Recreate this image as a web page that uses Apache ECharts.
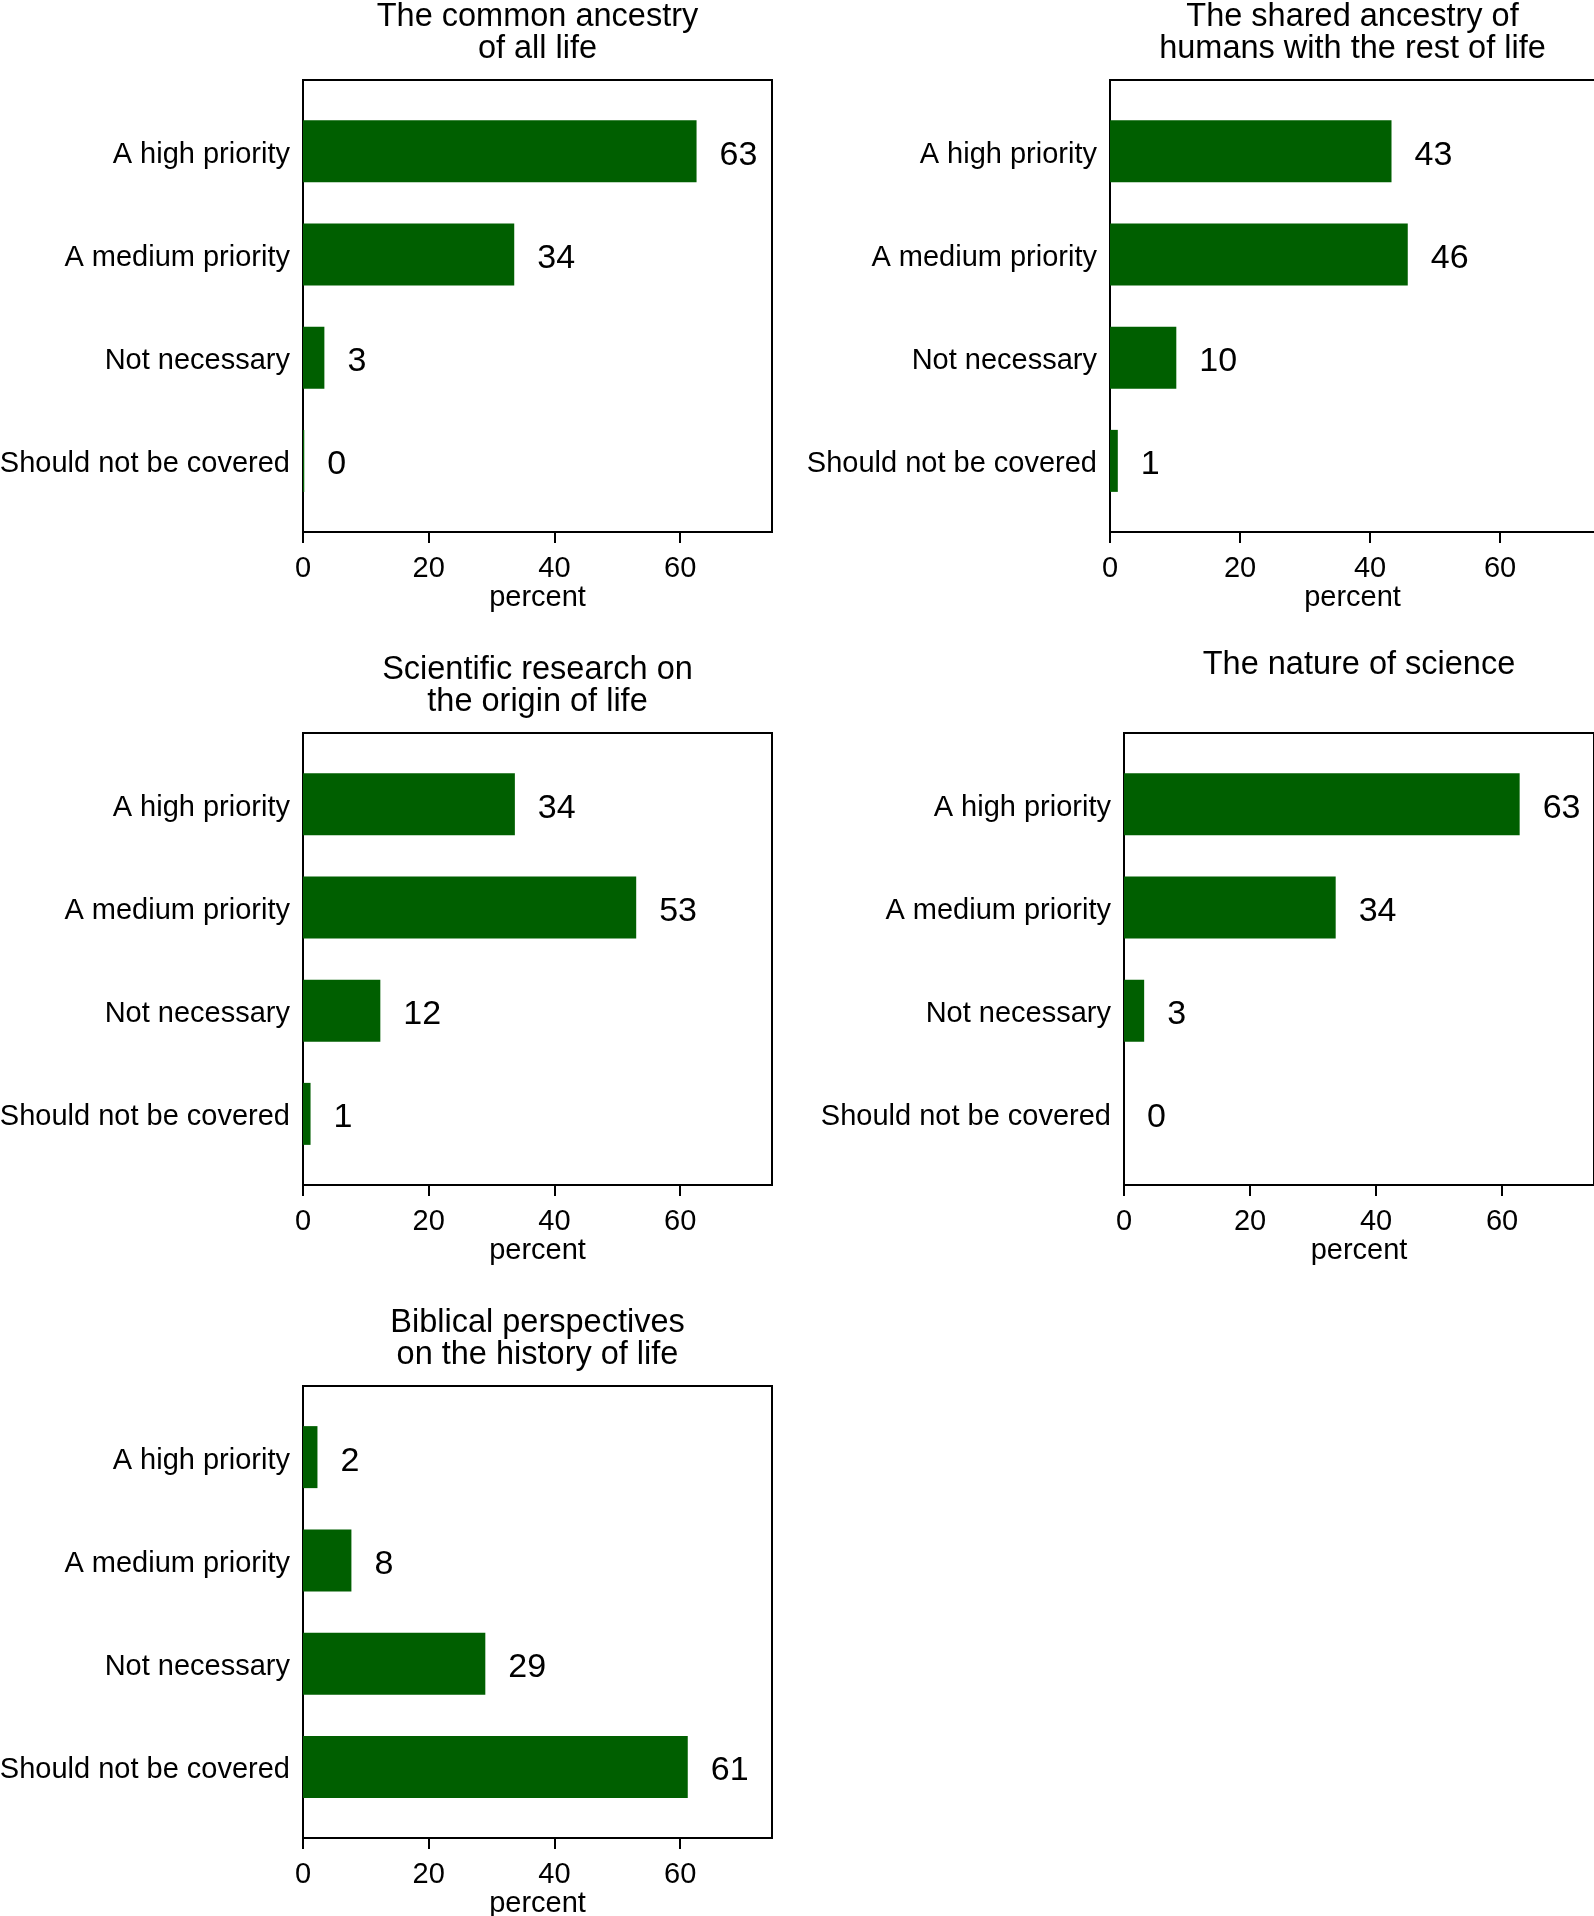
<!DOCTYPE html>
<html><head><meta charset="utf-8">
<script src="https://cdn.jsdelivr.net/npm/echarts@6/dist/echarts.min.js"></script>
<style>html,body{margin:0;padding:0;background:#fff}#c{width:1594px;height:1916px}</style>
</head><body><div id="c"></div>
<script>
const categories = ['A high priority', 'A medium priority', 'Not necessary', 'Should not be covered'];
const panelTitles = [
  'The common ancestry\nof all life',
  'The shared ancestry of\nhumans with the rest of life',
  'Scientific research on\nthe origin of life',
  'The nature of science',
  'Biblical perspectives\non the history of life'
];
// percent values (labels show rounded values)
const commonAncestry = [62.6, 33.6, 3.4, 0.2];
const sharedAncestry = [43.3, 45.8, 10.2, 1.2];
const originOfLife = [33.7, 53.0, 12.3, 1.2];
const natureOfScience = [62.8, 33.6, 3.2, 0];
const biblicalPerspectives = [2.3, 7.7, 29.0, 61.2];
const xTicks = [0, 20, 40, 60];
const xMin = 0, xMax = 74.6;
const axisName = 'percent';

const seriesData = [commonAncestry, sharedAncestry, originOfLife, natureOfScience, biblicalPerspectives];
// panel frames (layout only)
const frames = [
  {l: 303, w: 469, t: 80},
  {l: 1110, w: 485, t: 80},
  {l: 303, w: 469, t: 733},
  {l: 1124, w: 470, t: 733},
  {l: 303, w: 469, t: 1386}
];
const FH = 452, INSET = 19.5;
const FONT = '"Liberation Sans", Arial, Helvetica, sans-serif';
const GREEN = '#005f00';

const grid = [], xAxis = [], yAxis = [], series = [], graphic = [];
frames.forEach((f, i) => {
  const g0 = grid.length;
  grid.push({left: f.l, width: f.w, top: f.t, height: FH, show: true, borderColor: '#000', borderWidth: 2,
    backgroundColor: 'transparent', containLabel: false, outerBoundsMode: 'none'});
  grid.push({left: f.l, width: f.w, top: f.t + INSET, height: FH - 2 * INSET, show: false,
    containLabel: false, outerBoundsMode: 'none'});
  xAxis.push({
    gridIndex: g0, type: 'value', min: xMin, max: xMax,
    axisLine: {show: true, lineStyle: {color: '#000', width: 2}},
    axisTick: {show: true, length: 11, lineStyle: {color: '#000', width: 2}, customValues: xTicks},
    axisLabel: {fontSize: 29, color: '#000', fontFamily: FONT, margin: 22, customValues: xTicks},
    splitLine: {show: false},
    name: axisName, nameLocation: 'middle', nameGap: 51,
    nameTextStyle: {fontSize: 29, color: '#000', fontFamily: FONT}
  });
  yAxis.push({gridIndex: g0, type: 'value', show: false});
  xAxis.push({gridIndex: g0 + 1, type: 'value', min: xMin, max: xMax, show: false});
  yAxis.push({
    gridIndex: g0 + 1, type: 'category', data: categories, inverse: true,
    axisLine: {show: false}, axisTick: {show: false},
    axisLabel: {fontSize: 29, color: '#000', fontFamily: FONT, margin: 13, verticalAlign: 'top', lineHeight: 7}
  });
  series.push({
    type: 'bar', xAxisIndex: xAxis.length - 1, yAxisIndex: yAxis.length - 1,
    data: seriesData[i], barWidth: 62, itemStyle: {color: GREEN},
    label: {show: true, position: 'right', distance: 23, fontSize: 34, color: '#000', fontFamily: FONT,
      offset: [0, 4], formatter: p => String(Math.round(p.value))},
    silent: true, animation: false
  });
  const twoLine = panelTitles[i].indexOf('\n') >= 0;
  graphic.push({
    type: 'text', x: f.l + f.w / 2, y: twoLine ? f.t - 47 : f.t - 68,
    style: {text: panelTitles[i], font: '32.5px ' + FONT, fill: '#000', align: 'center', verticalAlign: 'middle', lineHeight: 32}
  });
});

const chart = echarts.init(document.getElementById('c'), null, {renderer: 'canvas'});
chart.setOption({animation: false, backgroundColor: '#fff', grid, xAxis, yAxis, series, graphic});
</script></body></html>
